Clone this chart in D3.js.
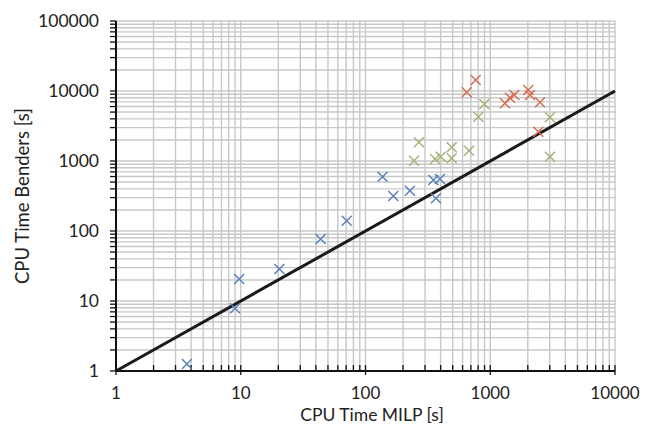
<!DOCTYPE html>
<html><head><meta charset="utf-8">
<script src="https://cdn.jsdelivr.net/npm/d3@7"></script>
<style>body{margin:0;background:#fff}svg{display:block}text{font-family:Lato,"Open Sans",sans-serif;fill:#222}</style>
</head><body><svg id="c" width="656" height="425"></svg>
<script>
const blueX = [3.7, 9.0, 9.7, 20.4, 43.7, 70.7, 137, 167, 227, 350, 395, 367];
const blueY = [1.26, 7.9, 20.6, 28.6, 77, 140, 597, 316, 377, 535, 553, 293];
const greenX = [245, 268, 361, 401, 491, 491, 676, 802, 896, 3013, 3013];
const greenY = [1010, 1850, 1068, 1151, 1570, 1092, 1403, 4295, 6515, 4210, 1151];
const redX = [648, 764, 1313, 1439, 1560, 2018, 2083, 2505, 2428];
const redY = [9575, 14350, 6670, 8020, 8770, 10330, 8770, 6890, 2624];
const diagX = [1, 10000];
const diagY = [1, 10000];
const xTicks = [1, 10, 100, 1000, 10000];
const yTicks = [1, 10, 100, 1000, 10000, 100000];
const xTitle = "CPU Time MILP [s]";
const yTitle = "CPU Time Benders [s]";

const svg = d3.select("#c");
const x = d3.scaleLog().domain([1, 10000]).range([116, 615]);
const y = d3.scaleLog().domain([1, 100000]).range([371, 21]);

const minor = (lo, hi) => { const a = []; for (let d = lo; d < hi; d *= 10) for (let k = 1; k < 10; k++) a.push(d * k); a.push(hi); return a; };
const xg = minor(1, 10000), yg = minor(1, 100000);

const g = svg.append("g");
g.selectAll(".vx").data(xg.filter(v => v > 1)).join("line")
  .attr("x1", d => x(d)).attr("x2", d => x(d)).attr("y1", y(1)).attr("y2", y(100000))
  .attr("stroke", "#c8c8c8").attr("stroke-width", 1.4);
g.selectAll(".hy").data(yg.filter(v => v > 1)).join("line")
  .attr("y1", d => y(d)).attr("y2", d => y(d)).attr("x1", x(1)).attr("x2", x(10000))
  .attr("stroke", "#c8c8c8").attr("stroke-width", 1.4);

// diagonal
svg.append("path").datum(diagX.map((v, i) => [v, diagY[i]]))
  .attr("d", d3.line().x(d => x(d[0])).y(d => y(d[1])))
  .attr("stroke", "#1a1a1a").attr("stroke-width", 3).attr("fill", "none");

// axes lines
svg.append("line").attr("x1", x(1)).attr("x2", x(1)).attr("y1", y(1)).attr("y2", y(100000)).attr("stroke", "#111").attr("stroke-width", 2);
svg.append("line").attr("x1", x(1)).attr("x2", x(10000)).attr("y1", y(1)).attr("y2", y(1)).attr("stroke", "#111").attr("stroke-width", 2);

// y ticks (outside)
svg.selectAll(".yt").data(yg).join("line")
  .attr("x1", x(1) - 6).attr("x2", x(1)).attr("y1", d => y(d)).attr("y2", d => y(d))
  .attr("stroke", "#111").attr("stroke-width", 1.3);
// x ticks
svg.selectAll(".xt").data(xg).join("line")
  .attr("x1", d => x(d)).attr("x2", d => x(d))
  .attr("y1", d => y(1) - 6).attr("y2", d => xTicks.includes(d) ? y(1) + 4 : y(1))
  .attr("stroke", "#111").attr("stroke-width", 1.3);

// tick labels
svg.selectAll(".yl").data(yTicks).join("text")
  .attr("x", 99).attr("y", d => y(d)).attr("dy", "0.35em").attr("text-anchor", "end")
  .attr("font-size", 17.5).text(d => d);
svg.selectAll(".xl").data(xTicks).join("text")
  .attr("x", d => x(d)).attr("y", 393).attr("dy", "0.35em").attr("text-anchor", "middle")
  .attr("font-size", 17).text(d => d);

svg.append("text").attr("x", 372).attr("y", 414.5).attr("dy", "0.35em").attr("text-anchor", "middle")
  .attr("font-size", 17.5).text(xTitle);
svg.append("text").attr("transform", "translate(23,196) rotate(-90)").attr("dy", "0.35em").attr("text-anchor", "middle")
  .attr("font-size", 18.5).text(yTitle);

// markers
const series = [
  {xs: blueX, ys: blueY, color: "#5b80b9"},
  {xs: greenX, ys: greenY, color: "#a2b37a"},
  {xs: redX, ys: redY, color: "#d66f55"}
];
const s = 5;
series.forEach(sr => {
  const pts = sr.xs.map((v, i) => [v, sr.ys[i]]);
  svg.append("g").selectAll("path").data(pts).join("path")
    .attr("d", d => { const cx = x(d[0]), cy = y(d[1]); return `M${cx - s},${cy - s}L${cx + s},${cy + s}M${cx - s},${cy + s}L${cx + s},${cy - s}`; })
    .attr("stroke", sr.color).attr("stroke-width", 1.5).attr("fill", "none");
});
</script></body></html>
